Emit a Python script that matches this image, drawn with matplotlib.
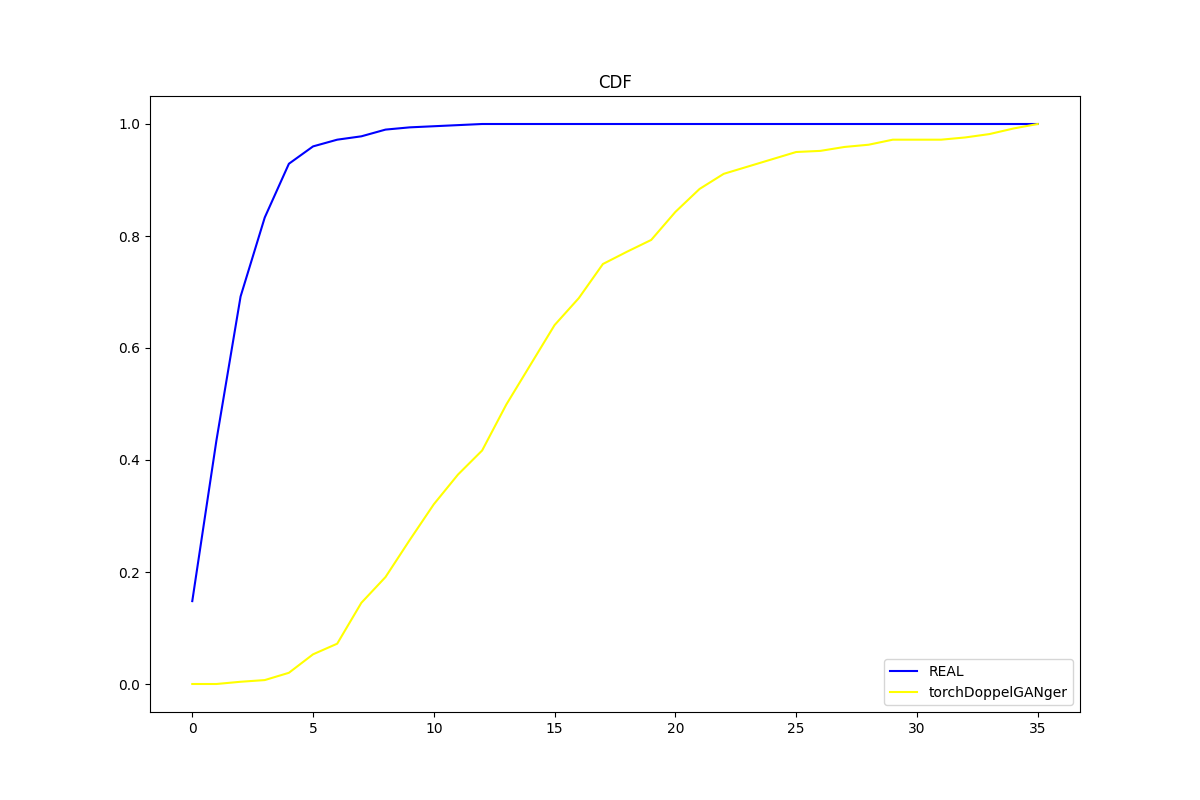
import matplotlib
matplotlib.use("Agg")
import matplotlib.pyplot as plt

# CDF values, one per integer x from 0 to 35
x_values = list(range(36))

real_cdf = [
    0.148, 0.435, 0.692, 0.833, 0.929, 0.960, 0.972, 0.978, 0.990, 0.994,
    0.996, 0.998, 1.0, 1.0, 1.0, 1.0, 1.0, 1.0, 1.0, 1.0,
    1.0, 1.0, 1.0, 1.0, 1.0, 1.0, 1.0, 1.0, 1.0, 1.0,
    1.0, 1.0, 1.0, 1.0, 1.0, 1.0,
]

doppelganger_cdf = [
    0.0, 0.0, 0.004, 0.007, 0.020, 0.053, 0.072, 0.145, 0.191, 0.257,
    0.321, 0.374, 0.417, 0.499, 0.570, 0.641, 0.689, 0.750, 0.772, 0.793,
    0.843, 0.884, 0.911, 0.924, 0.937, 0.950, 0.952, 0.959, 0.963, 0.972,
    0.972, 0.972, 0.976, 0.982, 0.992, 1.0,
]

fig, ax = plt.subplots(figsize=(12, 8), dpi=100)
ax.plot(x_values, real_cdf, color="blue", label="REAL")
ax.plot(x_values, doppelganger_cdf, color="yellow", label="torchDoppelGANger")
ax.set_title("CDF")
ax.legend(loc="lower right")
fig.savefig("out.png")
